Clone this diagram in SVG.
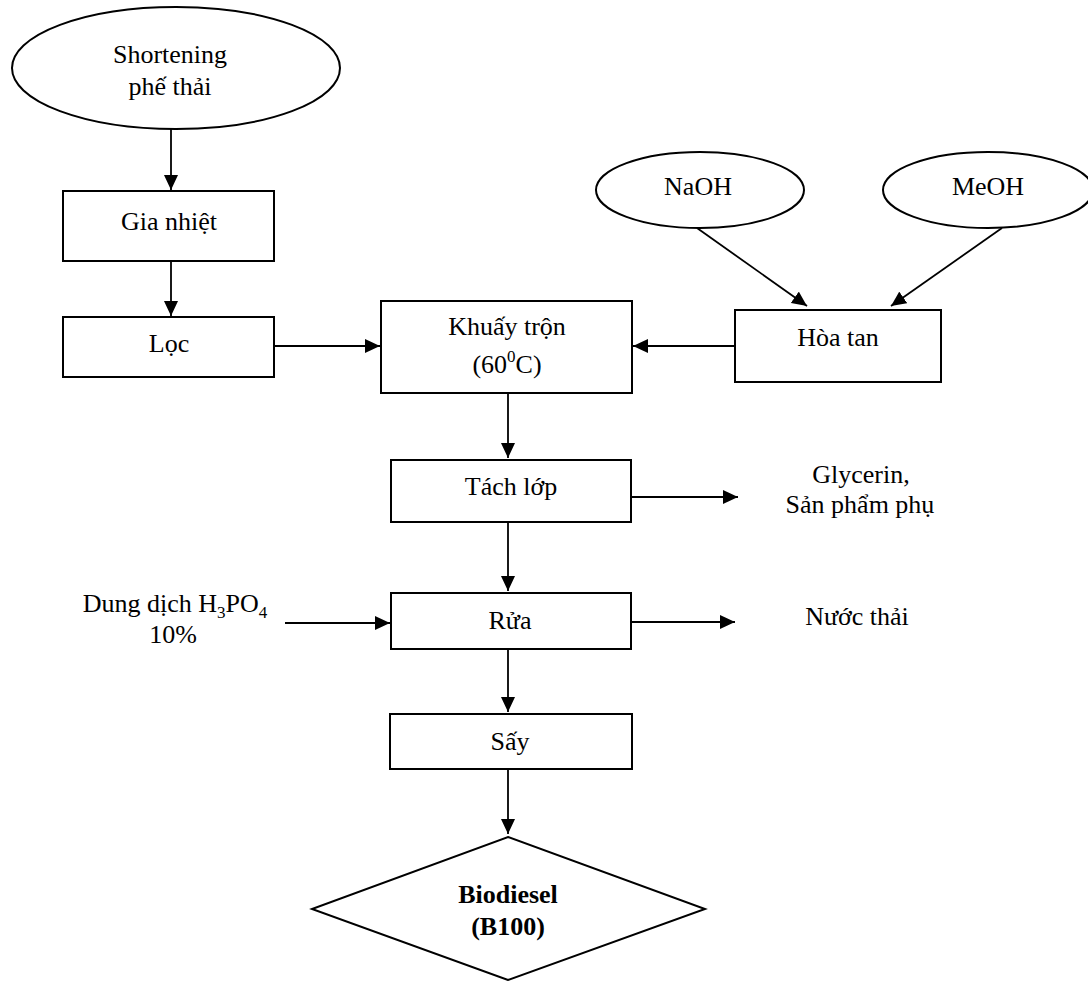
<svg xmlns="http://www.w3.org/2000/svg" width="1088" height="981" viewBox="0 0 1088 981">
<style>
.n{fill:#fff;stroke:#000;stroke-width:2}
.c{stroke:#000;stroke-width:1.8;fill:none}
text{font-family:"Liberation Serif","Times New Roman",serif;font-size:26px;fill:#000;text-anchor:middle}
.b{font-weight:bold}
.s{font-size:17px}
</style>
<defs>
<marker id="ah" markerUnits="userSpaceOnUse" markerWidth="16" markerHeight="14" refX="15" refY="7" orient="auto">
<path d="M0,0 L15,7 L0,14 z" fill="#000"/>
</marker>
</defs>
<rect width="1088" height="981" fill="#fff"/>
<g id="connectors">
<line class="c" x1="171" y1="129" x2="171" y2="190" marker-end="url(#ah)"/>
<line class="c" x1="171" y1="261" x2="171" y2="316" marker-end="url(#ah)"/>
<line class="c" x1="274" y1="346" x2="380" y2="346" marker-end="url(#ah)"/>
<line class="c" x1="697" y1="228" x2="807" y2="306" marker-end="url(#ah)"/>
<line class="c" x1="1002" y1="228" x2="891" y2="306" marker-end="url(#ah)"/>
<line class="c" x1="735" y1="346" x2="633" y2="346" marker-end="url(#ah)"/>
<line class="c" x1="508" y1="393" x2="508" y2="458" marker-end="url(#ah)"/>
<line class="c" x1="631" y1="497" x2="738" y2="497" marker-end="url(#ah)"/>
<line class="c" x1="508" y1="522" x2="508" y2="591" marker-end="url(#ah)"/>
<line class="c" x1="285" y1="623" x2="390" y2="623" marker-end="url(#ah)"/>
<line class="c" x1="631" y1="622" x2="735" y2="622" marker-end="url(#ah)"/>
<line class="c" x1="508" y1="649" x2="508" y2="712" marker-end="url(#ah)"/>
<line class="c" x1="508" y1="769" x2="508" y2="834" marker-end="url(#ah)"/>
</g>
<g id="shortening">
<ellipse class="n" cx="176" cy="68" rx="164" ry="61"/>
<text x="170" y="63">Shortening</text>
<text x="170" y="95">phế thải</text>
</g>
<g id="gianhiet">
<rect class="n" x="63" y="191" width="211" height="70"/>
<text x="169" y="230">Gia nhiệt</text>
</g>
<g id="loc">
<rect class="n" x="63" y="317" width="211" height="60"/>
<text x="169" y="352">Lọc</text>
</g>
<g id="naoh">
<ellipse class="n" cx="700" cy="190" rx="104" ry="38"/>
<text x="698" y="195">NaOH</text>
</g>
<g id="meoh">
<ellipse class="n" cx="988" cy="190" rx="105" ry="38"/>
<text x="988" y="195">MeOH</text>
</g>
<g id="khuaytron">
<rect class="n" x="381" y="301" width="251" height="92"/>
<text x="507" y="335">Khuấy trộn</text>
<text x="507" y="373">(60<tspan class="s" dy="-11">0</tspan><tspan dy="11">C)</tspan></text>
</g>
<g id="hoatan">
<rect class="n" x="735" y="310" width="206" height="72"/>
<text x="838" y="346">Hòa tan</text>
</g>
<g id="tachlop">
<rect class="n" x="391" y="460" width="240" height="62"/>
<text x="511" y="495">Tách lớp</text>
</g>
<g id="glycerin">
<text x="861" y="483">Glycerin,</text>
<text x="860" y="513">Sản phẩm phụ</text>
</g>
<g id="rua">
<rect class="n" x="391" y="593" width="240" height="56"/>
<text x="510" y="629">Rửa</text>
</g>
<g id="h3po4">
<text x="175" y="612">Dung dịch H<tspan class="s" dy="6">3</tspan><tspan dy="-6">PO</tspan><tspan class="s" dy="6">4</tspan></text>
<text x="173" y="643">10%</text>
</g>
<g id="nuocthai">
<text x="857" y="625">Nước thải</text>
</g>
<g id="say">
<rect class="n" x="390" y="714" width="242" height="55"/>
<text x="510" y="750">Sấy</text>
</g>
<g id="biodiesel">
<polygon class="n" points="508,837 705,909 508,980 312,909"/>
<text class="b" x="508" y="903">Biodiesel</text>
<text class="b" x="508" y="935">(B100)</text>
</g>
</svg>
